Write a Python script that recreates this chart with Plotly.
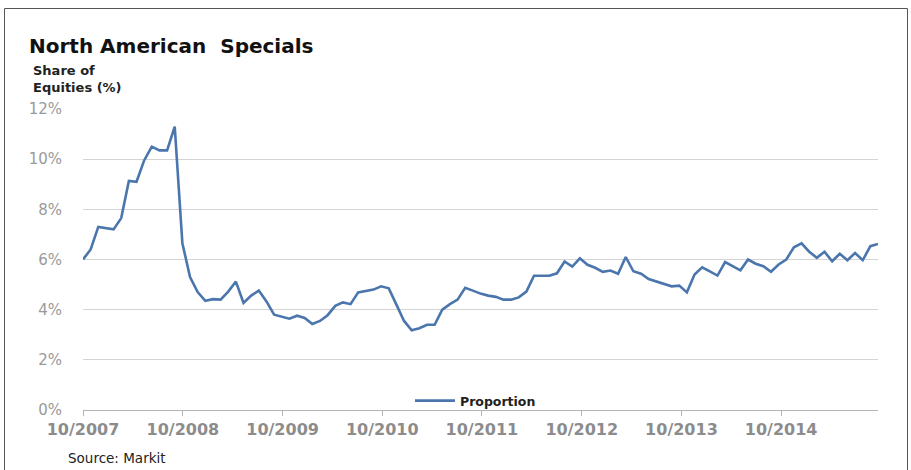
import datetime as dt
import plotly.graph_objects as go

# Data: share of equities on special (%), sampled every 4 weeks from Oct 2007
start_date = "2007-10-01"
step_days = 28
proportion = [
    6.0, 6.4, 7.3, 7.25, 7.2, 7.65, 9.13, 9.1, 9.95, 10.5,
    10.35, 10.35, 11.3, 6.65, 5.3, 4.7, 4.35, 4.42, 4.4, 4.72,
    5.12, 4.27, 4.56, 4.76, 4.33, 3.8, 3.73, 3.64, 3.76, 3.67,
    3.43, 3.55, 3.78, 4.15, 4.29, 4.22, 4.69, 4.76, 4.8, 4.93,
    4.85, 4.2, 3.55, 3.18, 3.26, 3.4, 3.4, 4.0, 4.22, 4.4,
    4.87, 4.76, 4.64, 4.56, 4.51, 4.4, 4.4, 4.49, 4.72, 5.35,
    5.35, 5.35, 5.45, 5.92, 5.72, 6.05, 5.79, 5.67, 5.51, 5.56,
    5.43, 6.1, 5.53, 5.43, 5.22, 5.12, 5.03, 4.93, 4.96, 4.69,
    5.4, 5.69, 5.53, 5.36, 5.9, 5.72, 5.57, 6.0, 5.83, 5.73,
    5.51, 5.8, 6.0, 6.49, 6.64, 6.31, 6.07, 6.31, 5.93, 6.23,
    5.97, 6.26, 5.97, 6.53, 6.62,
]
x_tick_dates = ["2007-10-01", "2008-10-01", "2009-10-01", "2010-10-01",
                "2011-10-01", "2012-10-01", "2013-10-01", "2014-10-01"]
x_tick_labels = ["10/2007", "10/2008", "10/2009", "10/2010",
                 "10/2011", "10/2012", "10/2013", "10/2014"]
y_tick_vals = [0, 2, 4, 6, 8, 10, 12]
y_tick_labels = ["0%", "2%", "4%", "6%", "8%", "10%", "12%"]

d0 = dt.date.fromisoformat(start_date)
dates = [(d0 + dt.timedelta(days=step_days * i)).isoformat() for i in range(len(proportion))]

FONT = "DejaVu Sans, Verdana, sans-serif"

fig = go.Figure()
fig.add_trace(go.Scatter(
    x=dates, y=proportion, mode="lines", name="Proportion",
    line=dict(color="#4a76ad", width=2.6),
))

# plot area geometry (pixels) used for layout
W, H = 911, 470
L, R, T, B = 83, 33, 109, 60
pw, ph = W - L - R, H - T - B

def px(xp):
    return (xp - L) / pw

def py(yp):
    return (H - B - yp) / ph

fig.update_layout(
    width=W, height=H,
    margin=dict(l=L, r=R, t=T, b=B),
    paper_bgcolor="white", plot_bgcolor="white",
    font=dict(family=FONT),
    showlegend=True,
    legend=dict(
        x=px(410), y=py(401), xanchor="left", yanchor="middle",
        bgcolor="rgba(0,0,0,0)", borderwidth=0,
        font=dict(family=FONT, size=12.5, color="#222", weight="bold"),
        itemwidth=40,
    ),
    xaxis=dict(
        type="date",
        range=[dates[0], dates[-1]],
        tickvals=x_tick_dates, ticktext=x_tick_labels,
        showgrid=False,
        showline=True, linecolor="#b4b4b4", linewidth=1,
        ticks="outside", ticklen=5, tickcolor="#b4b4b4",
        tickfont=dict(family=FONT, size=16, color="#8c8c8c", weight="bold"),
        zeroline=False,
    ),
    yaxis=dict(
        range=[0, 12],
        tickvals=y_tick_vals, ticktext=y_tick_labels,
        showgrid=True, gridcolor="#d4d4d4", gridwidth=1,
        showline=False, zeroline=False,
        ticks="", ticklabelstandoff=20,
        tickfont=dict(family=FONT, size=15, color="#9a9a9a"),
    ),
)

fig.add_annotation(
    text="North American  Specials", xref="paper", yref="paper",
    x=px(27), y=py(46), xanchor="left", yanchor="middle", showarrow=False,
    font=dict(family=FONT, size=20, color="#111", weight="bold"),
)
fig.add_annotation(
    text="Share of<br>Equities (%)", xref="paper", yref="paper",
    x=px(31), y=py(79), xanchor="left", yanchor="middle", showarrow=False,
    align="left",
    font=dict(family=FONT, size=13, color="#222", weight="bold"),
)
fig.add_annotation(
    text="Source: Markit", xref="paper", yref="paper",
    x=px(66), y=py(458), xanchor="left", yanchor="middle", showarrow=False,
    font=dict(family=FONT, size=13.5, color="#222"),
)

# outer frame
fig.add_shape(
    type="rect", xref="paper", yref="paper",
    x0=px(4.5), x1=px(907.5), y0=py(480), y1=py(8.5),
    line=dict(color="#555", width=1), fillcolor="rgba(0,0,0,0)", layer="below",
)

fig.write_html(
    "out.html",
    config={"displayModeBar": False},
    post_script="document.body.style.margin='0';document.body.style.padding='0';",
)
